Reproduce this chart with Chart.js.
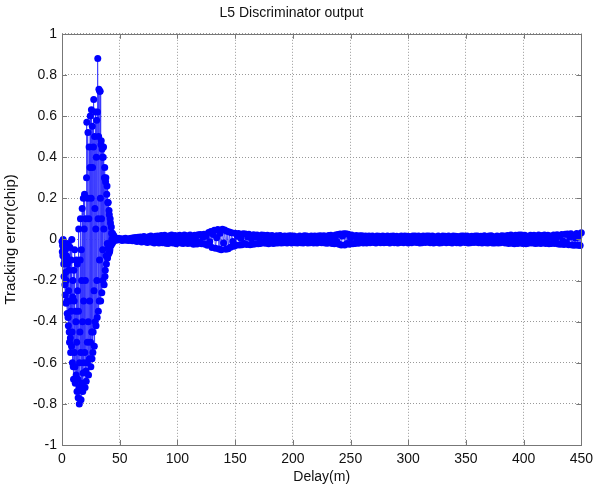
<!DOCTYPE html>
<html>
<head>
<meta charset="utf-8">
<script src="https://cdn.jsdelivr.net/npm/chart.js@4.4.0/dist/chart.umd.min.js"></script>
<style>
  html, body { margin: 0; padding: 0; background: #fff; }
  #wrap { width: 599px; height: 490px; }
</style>
</head>
<body>
<div id="wrap"><canvas id="chart" width="599" height="490"></canvas></div>
<script>
// Sampling grid (metres of delay).
var nearStart = 0, nearStep = 0.25;
var farStart = 46, farStep = 1;

// Pull-in region, 0 .. 45 m, every 0.25 m.
var nearError = [
  -0.01, -0.06, -0.03, -0.08, 0.0, -0.04, -0.12, -0.18, -0.02, -0.1,
  -0.22, -0.27, -0.05, -0.16, -0.31, -0.2, -0.08, -0.3, -0.36, -0.12,
  -0.02, -0.38, -0.42, -0.25, -0.15, -0.45, -0.5, -0.3, -0.04, -0.48,
  -0.55, -0.35, -0.1, -0.52, 0.0, -0.45, -0.6, -0.28, -0.2, -0.62,
  -0.68, -0.15, -0.3, -0.55, -0.05, -0.62, -0.7, -0.35, -0.4, -0.66,
  -0.1, -0.5, -0.74, -0.12, -0.25, -0.68, -0.77, -0.35, 0.05, -0.72,
  -0.8, -0.6, -0.45, -0.1, 0.1, -0.55, -0.78, -0.05, -0.2, -0.7,
  0.15, -0.4, -0.74, -0.65, 0.2, -0.3, -0.6, 0.05, 0.22, -0.55,
  -0.72, -0.2, 0.1, -0.64, -0.69, 0.3, 0.57, -0.6, -0.5, 0.2,
  0.52, -0.4, -0.66, 0.1, 0.45, -0.58, -0.3, 0.35, 0.6, -0.5,
  -0.62, 0.2, 0.63, -0.45, -0.58, 0.55, 0.35, -0.55, -0.45, 0.45,
  0.68, -0.25, -0.52, 0.5, 0.15, -0.4, 0.62, 0.05, -0.42, 0.4,
  0.58, -0.2, -0.38, 0.62, 0.88, 0.1, -0.35, 0.5, 0.73, -0.3,
  -0.1, 0.72, 0.72, 0.2, -0.3, 0.46, 0.48, 0.1, -0.26, 0.44,
  0.4, -0.05, -0.2, 0.4, 0.45, 0.05, -0.22, 0.3, 0.35, -0.18,
  -0.15, 0.28, 0.3, -0.08, -0.12, 0.22, 0.26, -0.02, -0.09, 0.18,
  0.18, -0.04, -0.07, 0.14, 0.12, -0.06, -0.05, 0.1, 0.08, -0.02,
  -0.03, 0.06, 0.03, 0.0, -0.02, 0.03, 0.02, -0.01, -0.01, 0.02,
  0.01
];

// Tracking region, 46 .. 450 m, every 1 m.
var farError = [
  0.003, -0.004, 0.005, -0.002, 0.004, 0.001, -0.005, 0.003, -0.003, 0.005, -0.004, 0.002, -0.005, 0.004, 0.006, -0.007, 0.008, -0.006, 0.009, -0.01,
  0.011, -0.004, 0.012, -0.013, 0.006, 0.014, -0.012, 0.002, -0.015, 0.013, -0.007, 0.016, -0.014, 0.009, -0.017, 0.015, -0.003, 0.017, -0.018, 0.008,
  0.019, -0.016, 0.004, 0.02, -0.019, 0.011, -0.02, 0.018, -0.006, 0.021, -0.017, 0.002, 0.019, -0.021, 0.013, -0.009, 0.02, -0.018, 0.007, -0.02,
  0.021, -0.012, 0.018, -0.02, 0.005, 0.022, -0.019, 0.014, -0.023, 0.02, -0.004, -0.022, 0.023, -0.015, 0.024, -0.021, 0.009, 0.025, -0.024, 0.016,
  -0.028, 0.033, -0.012, 0.038, -0.04, 0.024, 0.045, -0.043, 0.008, 0.048, -0.047, 0.03, -0.05, 0.049, -0.018, 0.046, -0.048, 0.04, -0.045, 0.036,
  -0.038, 0.032, -0.01, -0.033, 0.03, -0.028, 0.015, 0.029, -0.027, 0.006, -0.026, 0.027, -0.02, 0.026, -0.025, 0.012, 0.025, -0.026, 0.004, -0.024,
  0.023, -0.022, 0.01, 0.022, -0.021, 0.004, -0.02, 0.021, -0.014, 0.02, -0.019, 0.008, 0.02, -0.021, 0.016, -0.006, 0.019, -0.02, 0.011, -0.018,
  0.018, -0.017, 0.006, 0.019, -0.018, 0.012, -0.016, 0.017, -0.003, -0.018, 0.016, -0.01, 0.018, -0.017, 0.005, 0.017, -0.016, 0.013, -0.018, 0.002,
  0.017, -0.016, 0.009, -0.018, 0.018, -0.004, 0.016, -0.017, 0.011, -0.016, 0.017, -0.008, -0.017, 0.016, 0.003, -0.018, 0.017, -0.012, 0.018, -0.016,
  0.006, 0.018, -0.017, 0.012, -0.019, 0.019, -0.005, 0.02, -0.02, 0.014, -0.021, 0.022, -0.009, 0.024, -0.024, 0.026, -0.027, 0.016, 0.028, -0.027,
  0.027, -0.02, 0.025, -0.024, 0.008, 0.022, -0.021, 0.015, -0.02, 0.019, -0.004, -0.019, 0.018, -0.012, 0.018, -0.017, 0.006, 0.017, -0.018, 0.01,
  0.016, -0.016, 0.004, 0.017, -0.015, 0.011, -0.017, 0.016, -0.007, 0.015, -0.016, 0.002, 0.017, -0.016, 0.013, -0.015, 0.016, -0.005, -0.017, 0.015,
  -0.011, 0.016, -0.016, 0.006, 0.015, -0.017, 0.012, -0.015, 0.017, -0.002, -0.016, 0.016, -0.009, 0.015, -0.017, 0.014, 0.004, -0.016, 0.016, -0.012,
  0.017, -0.015, 0.007, 0.016, -0.017, 0.012, -0.016, 0.017, -0.004, -0.015, 0.016, -0.011, 0.017, -0.016, 0.003, 0.016, -0.017, 0.013, -0.015, 0.008,
  0.016, -0.017, 0.005, -0.016, 0.017, -0.012, 0.015, -0.016, 0.01, 0.017, -0.015, 0.002, -0.017, 0.016, -0.008, 0.015, -0.016, 0.014, 0.006, -0.017,
  0.016, -0.011, 0.017, -0.015, 0.003, 0.016, -0.017, 0.012, -0.016, 0.015, -0.006, -0.015, 0.017, -0.013, 0.016, -0.016, 0.008, 0.015, -0.017, 0.004,
  0.018, -0.016, 0.011, -0.018, 0.017, -0.005, 0.018, -0.017, 0.013, -0.018, 0.002, 0.017, -0.018, 0.009, -0.016, 0.018, -0.012, 0.017, -0.018, 0.006,
  0.019, -0.02, 0.008, 0.021, -0.019, 0.014, -0.021, 0.02, -0.004, -0.02, 0.021, -0.012, 0.022, -0.02, 0.005, 0.02, -0.021, 0.015, -0.019, 0.01,
  0.02, -0.018, 0.003, 0.02, -0.02, 0.013, -0.019, 0.021, -0.007, -0.02, 0.019, -0.014, 0.021, -0.02, 0.006, 0.02, -0.021, 0.016, -0.02, 0.009,
  0.022, -0.02, 0.004, 0.023, -0.022, 0.015, -0.024, 0.024, -0.008, -0.025, 0.025, -0.016, 0.026, -0.026, 0.01, 0.027, -0.027, 0.018, -0.028, 0.005,
  0.029, -0.028, 0.016, -0.03, 0.032
];

// Axis ticks.
var xTicks = [0, 50, 100, 150, 200, 250, 300, 350, 400, 450];
var yTicks = [-1, -0.8, -0.6, -0.4, -0.2, 0, 0.2, 0.4, 0.6, 0.8, 1];

var points = [];
nearError.forEach(function(v, i) {
  points.push({x: nearStart + i * nearStep, y: v});
});
farError.forEach(function(v, i) {
  points.push({x: farStart + i * farStep, y: v});
});

var FONT = '"Liberation Sans", Arial, Helvetica, sans-serif';

// MATLAB style box with inward tick marks.
var boxPlugin = {
  id: 'matlabBox',
  afterDatasetsDraw: function(chart) {
    var a = chart.chartArea;
    var ctx = chart.ctx;
    var xs = chart.scales.x, ys = chart.scales.y;
    ctx.save();
    ctx.strokeStyle = '#777';
    ctx.lineWidth = 1;
    ctx.beginPath();
    xTicks.forEach(function(t) {
      var px = Math.round(xs.getPixelForValue(t)) + 0.5;
      ctx.moveTo(px, a.bottom); ctx.lineTo(px, a.bottom - 5);
      ctx.moveTo(px, a.top); ctx.lineTo(px, a.top + 5);
    });
    yTicks.forEach(function(t) {
      var py = Math.round(ys.getPixelForValue(t)) + 0.5;
      ctx.moveTo(a.left, py); ctx.lineTo(a.left + 5, py);
      ctx.moveTo(a.right, py); ctx.lineTo(a.right - 5, py);
    });
    ctx.stroke();
    ctx.strokeRect(Math.round(a.left) + 0.5, Math.round(a.top) + 0.5,
      Math.round(a.right - a.left), Math.round(a.bottom - a.top));
    ctx.restore();
  }
};

new Chart(document.getElementById('chart'), {
  type: 'line',
  data: {
    datasets: [{
      data: points,
      borderColor: 'rgba(50, 50, 255, 0.8)',
      borderWidth: 1,
      pointRadius: 3.5,
      pointBorderWidth: 0,
      pointBackgroundColor: '#0000ff',
      tension: 0,
      clip: false
    }]
  },
  options: {
    responsive: false,
    animation: false,
    events: [],
    layout: { padding: { left: 0, right: 16, top: 0, bottom: 0 } },
    plugins: {
      legend: { display: false },
      tooltip: { enabled: false },
      title: {
        display: true,
        text: 'L5 Discriminator output',
        color: '#111',
        font: { family: FONT, size: 14, weight: 'normal' },
        padding: { top: 5, bottom: 12 }
      }
    },
    scales: {
      x: {
        type: 'linear',
        min: 0,
        max: 450,
        afterBuildTicks: function(scale) {
          scale.ticks = xTicks.map(function(v) { return {value: v}; });
        },
        afterFit: function(scale) { scale.height = 45; },
        grid: {
          color: '#999',
          lineWidth: 1,
          drawTicks: false
        },
        border: { display: false, dash: [1, 2] },
        ticks: {
          padding: 6,
          color: '#111',
          maxRotation: 0,
          font: { family: FONT, size: 14 },
          callback: function(v) { return String(v); }
        },
        title: {
          display: true,
          text: 'Delay(m)',
          color: '#111',
          font: { family: FONT, size: 14 },
          padding: { top: 0, bottom: 4 }
        }
      },
      y: {
        type: 'linear',
        min: -1,
        max: 1,
        afterBuildTicks: function(scale) {
          scale.ticks = yTicks.map(function(v) { return {value: v}; });
        },
        afterFit: function(scale) { scale.width = 62; },
        grid: {
          color: '#999',
          lineWidth: 1,
          drawTicks: false
        },
        border: { display: false, dash: [1, 2] },
        ticks: {
          padding: 5,
          color: '#111',
          font: { family: FONT, size: 14 },
          callback: function(v) { return String(Math.round(v * 10) / 10); }
        },
        title: {
          display: true,
          text: 'Tracking error(chip)',
          color: '#111',
          font: { family: FONT, size: 15 },
          padding: { top: 2, bottom: 0 }
        }
      }
    }
  },
  plugins: [boxPlugin]
});
</script>
</body>
</html>
